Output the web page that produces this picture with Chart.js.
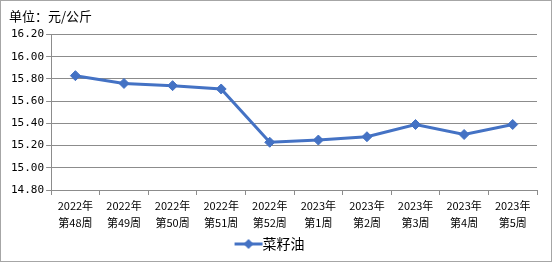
<!DOCTYPE html>
<html>
<head>
<meta charset="utf-8">
<script src="https://cdn.jsdelivr.net/npm/chart.js@4.4.1/dist/chart.umd.min.js"></script>
<style>
  html, body { margin: 0; padding: 0; background: #fff; }
  #box { width: 550px; height: 260px; border: 1px solid #a6a6a6; position: relative; }
</style>
</head>
<body>
<div id="box"><canvas id="lineChart" width="550" height="260"></canvas></div>
<script>
const years = ['2022年', '2022年', '2022年', '2022年', '2022年', '2023年', '2023年', '2023年', '2023年', '2023年'];
const weeks = ['第48周', '第49周', '第50周', '第51周', '第52周', '第1周', '第2周', '第3周', '第4周', '第5周'];
const prices = [15.83, 15.76, 15.74, 15.71, 15.23, 15.25, 15.28, 15.39, 15.30, 15.39];
const seriesName = '菜籽油';
const unitText = '单位：元/公斤';

const blue = '#4472C4';
const gridGray = '#8c8c8c';

const labels = years.map((y, i) => [y, weeks[i]]);

// legend icon: short line with a diamond
function legendIcon() {
    const c = document.createElement('canvas');
    c.width = 30; c.height = 12;
    const g = c.getContext('2d');
    g.strokeStyle = blue;
    g.lineWidth = 3;
    g.beginPath(); g.moveTo(1, 6); g.lineTo(29, 6); g.stroke();
    g.fillStyle = blue;
    g.beginPath(); g.moveTo(15, 1); g.lineTo(20, 6); g.lineTo(15, 11); g.lineTo(10, 6); g.closePath(); g.fill();
    return c;
}

const ctx = document.getElementById('lineChart').getContext('2d');
const myLineChart = new Chart(ctx, {
    type: 'line',
    data: {
        labels: labels,
        datasets: [{
            label: seriesName,
            data: prices,
            borderColor: blue,
            backgroundColor: blue,
            borderWidth: 3,
            pointStyle: 'rectRot',
            pointRadius: 5,
            pointBorderWidth: 1,
            tension: 0
        }]
    },
    options: {
        responsive: false,
        animation: false,
        layout: { padding: { left: 8, right: 14, top: 2, bottom: 0 } },
        plugins: {
            title: {
                display: true,
                text: unitText,
                align: 'start',
                color: '#000',
                font: { family: 'Noto Sans CJK SC', size: 13, weight: 'normal' },
                padding: { top: 5, bottom: 11 }
            },
            legend: {
                position: 'bottom',
                labels: {
                    color: '#000',
                    padding: 3,
                    font: { family: 'Noto Sans CJK SC', size: 14 },
                    usePointStyle: true,
                    generateLabels: chart => [{
                        text: seriesName,
                        pointStyle: legendIcon(),
                        fillStyle: blue,
                        strokeStyle: blue,
                        datasetIndex: 0
                    }]
                }
            },
            tooltip: { enabled: false }
        },
        scales: {
            x: {
                offset: true,
                grid: {
                    offset: true,
                    drawOnChartArea: false,
                    color: gridGray,
                    tickLength: 5
                },
                border: { color: gridGray },
                ticks: {
                    color: '#000',
                    maxRotation: 0,
                    autoSkip: false,
                    font: { family: 'Noto Sans CJK SC', size: 11, lineHeight: 1.5 },
                    padding: 3
                }
            },
            y: {
                min: 14.8,
                max: 16.2,
                grid: { color: gridGray, tickLength: 5 },
                border: { color: gridGray },
                ticks: {
                    stepSize: 0.2,
                    color: '#000',
                    font: { family: 'DejaVu Sans Mono', size: 11 },
                    padding: 2,
                    callback: v => v.toFixed(2)
                }
            }
        }
    }
});
</script>
</body>
</html>
